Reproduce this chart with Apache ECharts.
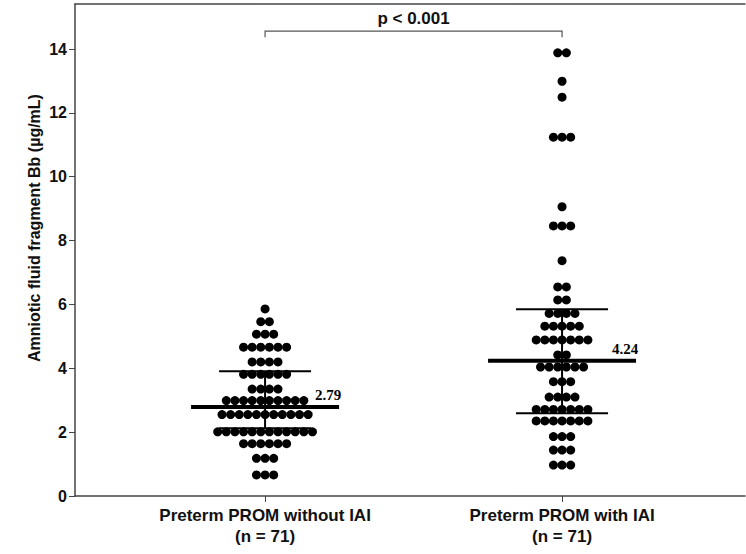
<!DOCTYPE html>
<html>
<head>
<meta charset="utf-8">
<title>Amniotic fluid fragment Bb</title>
<script src="https://cdn.jsdelivr.net/npm/echarts@6/dist/echarts.min.js"></script>
<style>
  html, body { margin: 0; padding: 0; background: #fff; }
  #chart { width: 746px; height: 554px; }
</style>
</head>
<body>
<div id="chart"></div>
<script>
// groups on the x axis
const categories = ['Preterm PROM without IAI', 'Preterm PROM with IAI'];
const sampleSizes = [71, 71];

const withoutIAI = [
  5.86,
  5.46, 5.46,
  5.07, 5.07, 5.07,
  4.66, 4.66, 4.66, 4.66, 4.66, 4.66,
  4.20, 4.20, 4.20, 4.20,
  3.81, 3.81, 3.81, 3.81, 3.81, 3.81,
  3.35, 3.35, 3.35, 3.35,
  2.99, 2.99, 2.99, 2.99, 2.99, 2.99, 2.99, 2.99, 2.99, 2.99,
  2.55, 2.55, 2.55, 2.55, 2.55, 2.55, 2.55, 2.55, 2.55, 2.55, 2.55,
  2.01, 2.01, 2.01, 2.01, 2.01, 2.01, 2.01, 2.01, 2.01, 2.01, 2.01, 2.01,
  1.64, 1.64, 1.64, 1.64, 1.64, 1.64,
  1.18, 1.18, 1.18,
  0.66, 0.66, 0.66
];
const withIAI = [
  13.88, 13.88,
  12.99,
  12.49,
  11.24, 11.24, 11.24,
  9.06,
  8.46, 8.46, 8.46,
  7.37,
  6.55, 6.55,
  6.14, 6.14,
  5.72, 5.72, 5.72, 5.72,
  5.32, 5.32, 5.32, 5.32, 5.32,
  4.89, 4.89, 4.89, 4.89, 4.89, 4.89, 4.89,
  4.42, 4.42,
  4.04, 4.04, 4.04, 4.04, 4.04, 4.04,
  3.58, 3.58, 3.58,
  3.10, 3.10, 3.10, 3.10,
  2.71, 2.71, 2.71, 2.71, 2.71, 2.71, 2.71,
  2.35, 2.35, 2.35, 2.35, 2.35, 2.35, 2.35,
  1.86, 1.86, 1.86,
  1.44, 1.44, 1.44,
  0.97, 0.97, 0.97
];

// summary lines per group
const medians = [2.79, 4.24];
const lowers = [2.12, 2.59];
const uppers = [3.91, 5.85];
const medianLabels = ['2.79', '4.24'];

const pText = 'p < 0.001';
const bracketLevel = 14.56;
const yTicks = [0, 2, 4, 6, 8, 10, 12, 14];

const FONT = '"Liberation Sans", Arial, sans-serif';
const dotStep = 0.029; // x units between neighbouring dots in a row

// lay equal values side by side, centred on the group position
function swarm(values, center) {
  const rows = new Map();
  values.forEach(v => {
    if (!rows.has(v)) rows.set(v, 0);
    rows.set(v, rows.get(v) + 1);
  });
  const points = [];
  rows.forEach((n, v) => {
    for (let k = 0; k < n; k++) {
      points.push([center + (k - (n - 1) / 2) * dotStep, v]);
    }
  });
  return points;
}

const statsData = medians.map((m, i) => [i + 1, m, lowers[i], uppers[i]]);

const chart = echarts.init(document.getElementById('chart'), null, { renderer: 'svg' });

const axisColor = '#444';

chart.setOption({
  animation: false,
  backgroundColor: '#fff',
  grid: { left: 75, right: 1, top: 4, bottom: 58 },
  xAxis: [
    {
      type: 'value',
      min: 0.36,
      max: 2.616,
      axisLine: { show: true, lineStyle: { color: axisColor, width: 1.5 } },
      axisTick: { show: true, customValues: [1, 2], length: 6, lineStyle: { color: axisColor, width: 1 } },
      axisLabel: {
        customValues: [1, 2],
        margin: 9,
        formatter: v => categories[Math.round(v) - 1] + '\n(n = ' + sampleSizes[Math.round(v) - 1] + ')',
        color: '#111',
        fontSize: 17,
        fontWeight: 'bold',
        lineHeight: 21,
        fontFamily: FONT
      },
      splitLine: { show: false }
    },
    {
      type: 'value',
      position: 'top',
      min: 0.36,
      max: 2.616,
      axisLine: { show: true, onZero: false, lineStyle: { color: axisColor, width: 1.5 } },
      axisTick: { show: false },
      axisLabel: { show: false },
      splitLine: { show: false }
    }
  ],
  yAxis: {
    type: 'value',
    min: 0,
    max: 15.41,
    axisLine: { show: true, lineStyle: { color: axisColor, width: 1.5 } },
    axisTick: { show: true, customValues: yTicks, length: 6, lineStyle: { color: axisColor, width: 1 } },
    axisLabel: { customValues: yTicks, margin: 8, color: '#111', fontSize: 16, fontWeight: 'bold', fontFamily: FONT },
    splitLine: { show: false }
  },
  graphic: [{
    type: 'text',
    x: 34,
    y: 228,
    rotation: Math.PI / 2,
    style: {
      text: 'Amniotic fluid fragment Bb (µg/mL)',
      x: 0,
      y: 0,
      fill: '#111',
      font: 'bold 16px ' + FONT,
      align: 'center',
      verticalAlign: 'middle'
    }
  }],
  series: [
    {
      type: 'scatter',
      data: swarm(withoutIAI, 1),
      symbol: 'circle',
      symbolSize: 9,
      itemStyle: { color: '#000', opacity: 1 },
      z: 3
    },
    {
      type: 'scatter',
      data: swarm(withIAI, 2),
      symbol: 'circle',
      symbolSize: 9,
      itemStyle: { color: '#000', opacity: 1 },
      z: 3
    },
    {
      type: 'custom',
      data: statsData,
      z: 4,
      renderItem: (params, api) => {
        const x = api.value(0);
        const pm = api.coord([x, api.value(1)]);
        const pl = api.coord([x, api.value(2)]);
        const pu = api.coord([x, api.value(3)]);
        const cx = pm[0];
        const line = (x1, y1, x2, y2, w) => ({
          type: 'line',
          shape: { x1, y1, x2, y2 },
          style: { stroke: '#000', lineWidth: w }
        });
        return {
          type: 'group',
          children: [
            line(cx, pu[1], cx, pl[1], 2),
            line(cx - 46, pu[1], cx + 46, pu[1], 2),
            line(cx - 46, pl[1], cx + 46, pl[1], 2),
            line(cx - 74, pm[1], cx + 74, pm[1], 4),
            {
              type: 'text',
              style: {
                text: medianLabels[params.dataIndex],
                x: cx + 50,
                y: pm[1] - 12,
                fill: '#000',
                font: 'bold 15px "Liberation Serif", "Times New Roman", serif',
                align: 'left',
                verticalAlign: 'middle'
              }
            }
          ]
        };
      }
    },
    {
      type: 'custom',
      data: [[1, 2, bracketLevel]],
      z: 4,
      renderItem: (params, api) => {
        const p1 = api.coord([api.value(0), api.value(2)]);
        const p2 = api.coord([api.value(1), api.value(2)]);
        return {
          type: 'group',
          children: [
            {
              type: 'polyline',
              shape: { points: [[p1[0], p1[1] + 6], [p1[0], p1[1]], [p2[0], p2[1]], [p2[0], p2[1] + 6]] },
              style: { stroke: '#555', lineWidth: 1.2, fill: null }
            },
            {
              type: 'text',
              style: {
                text: pText,
                x: (p1[0] + p2[0]) / 2,
                y: p1[1] - 13,
                fill: '#111',
                font: 'bold 17px ' + FONT,
                align: 'center',
                verticalAlign: 'middle'
              }
            }
          ]
        };
      }
    }
  ]
});

window.addEventListener('resize', () => chart.resize());
</script>
</body>
</html>
